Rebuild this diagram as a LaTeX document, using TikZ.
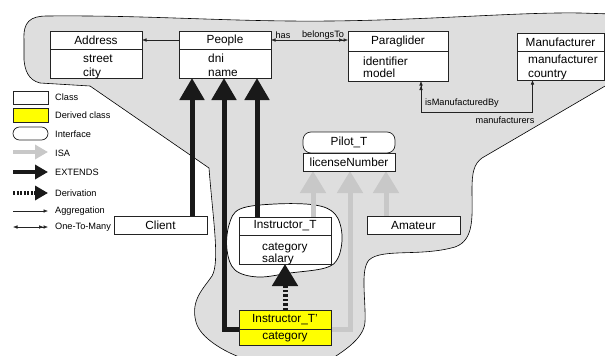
\documentclass[tikz,border=0pt]{standalone}
\usepackage{fontspec}
\setmainfont{Liberation Sans}
\usetikzlibrary{arrows.meta,calc}
\definecolor{blobgray}{RGB}{222,222,222}
\definecolor{isagray}{RGB}{200,200,200}
\definecolor{edgec}{RGB}{35,35,35}
\definecolor{derivy}{RGB}{255,255,0}
\pgfdeclarelayer{bgzero}
\pgfdeclarelayer{bgone}
\pgfsetlayers{bgzero,bgone,main}
\begin{document}
\begin{tikzpicture}[x=1pt,y=-1pt,
  box/.style={draw=edgec, line width=0.7pt, fill=white, inner sep=0pt, outer sep=0pt},
  ttl/.style={box, font=\fontsize{11.8}{14}\selectfont},
  attr/.style={inner sep=0pt, font=\fontsize{11.8}{14}\selectfont, anchor=base west},
  small/.style={inner sep=0pt, font=\fontsize{9.2}{11}\selectfont},
  lgtext/.style={small, anchor=west},
  stip/.tip={Latex[length=4.5pt,width=3.6pt]},
  dtip/.tip={Latex[length=4.5pt,width=3.6pt] Latex[length=4.5pt,width=3.6pt]},
  conn/.style={line width=0.6pt, edgec},
  extends/.style={line width=5pt, black!90, line join=miter, -{Triangle[width=24pt,length=22pt]}},
  isa/.style={line width=5pt, isagray, line join=miter, -{Triangle[width=25pt,length=22pt]}},
  deriv/.style={line width=5pt, black!90, dash pattern=on 2.5pt off 2pt, -{Triangle[width=25pt,length=22pt]}},
  lgextends/.style={line width=4pt, black!90, -{Triangle[width=14pt,length=13pt]}},
  lgisa/.style={line width=4pt, isagray, -{Triangle[width=14pt,length=13pt]}},
  lgderiv/.style={line width=4pt, black!90, dash pattern=on 2pt off 1.5pt, -{Triangle[width=14pt,length=13pt]}}
]
\useasboundingbox (0,0) rectangle (605,356);

% ---------- classes ----------
\node[ttl, minimum width=92pt, minimum height=18pt] (addrT) at (96,40) {Address};
\node[box, minimum width=92pt, minimum height=29pt] (addrB) at (96,63.5) {};
\node[attr] (addr1) at (83,62.5) {street};
\node[attr] (addr2) at (83,76) {city};

\node[ttl, minimum width=92pt, minimum height=18pt] (pplT) at (225,40) {People};
\node[box, minimum width=92pt, minimum height=29pt] (pplB) at (225,63.5) {};
\node[attr] (ppl1) at (208,62.5) {dni};
\node[attr] (ppl2) at (208,76) {name};

\node[ttl, minimum width=100pt, minimum height=20pt] (paraT) at (398,41) {Paraglider};
\node[box, minimum width=100pt, minimum height=30pt] (paraB) at (398,66) {};
\node[attr] (para1) at (363,65) {identifier};
\node[attr] (para2) at (363,77.5) {model};

\node[ttl, minimum width=87pt, minimum height=18pt] (manT) at (560.5,42) {Manufacturer};
\node[box, minimum width=87pt, minimum height=29pt] (manB) at (560.5,65.5) {};
\node[attr] (man1) at (528,63.5) {manufacturer};
\node[attr] (man2) at (528,77) {country};

\node[ttl, rounded corners=8pt, minimum width=92pt, minimum height=21pt] (pilotT) at (349,142.5) {Pilot\_T};
\node[ttl, minimum width=92pt, minimum height=18pt] (pilotB) at (349,162) {licenseNumber};

\node[ttl, minimum width=93pt, minimum height=18pt] (client) at (160.5,225) {Client};
\node[ttl, minimum width=93pt, minimum height=18pt] (amat) at (413.5,225) {Amateur};

\node[ttl, minimum width=92pt, minimum height=18pt] (instT) at (285,226) {Instructor\_T};
\node[box, minimum width=92pt, minimum height=29pt] (instB) at (285,249.5) {};
\node[attr] (inst1) at (262,250) {category};
\node[attr] (inst2) at (262,262) {salary};

\node[ttl, fill=derivy, minimum width=92pt, minimum height=19pt] (inst2T) at (285,319.5) {Instructor\_T'};
\node[ttl, fill=derivy, minimum width=92pt, minimum height=16pt] (inst2B) at (285,337) {category};

% ---------- labels ----------
\node[small] (lhas) at (283,35) {has};
\node[small] (lbel) at (323,35) {belongsTo};
\node[small] (lism) at (462,103) {isManufacturedBy};
\node[small] (lman) at (505,120) {manufacturers};

% ---------- legend ----------
\node[box, minimum width=35pt, minimum height=13pt] (lgclass) at (30.5,97.5) {};
\node[box, fill=derivy, minimum width=35pt, minimum height=14pt] (lgder) at (30.5,115) {};
\node[box, rounded corners=6.5pt, minimum width=35pt, minimum height=13pt] (lgint) at (30.5,133.5) {};
\node[lgtext] (lt1) at (55,97) {Class};
\node[lgtext] (lt2) at (55,115.5) {Derived class};
\node[lgtext] (lt3) at (55,134) {Interface};
\node[lgtext] (lt4) at (55,153) {ISA};
\node[lgtext] (lt5) at (55,172.5) {EXTENDS};
\node[lgtext] (lt6) at (55,193) {Derivation};
\node[lgtext] (lt7) at (55,211) {Aggregation};
\node[lgtext] (lt8) at (55,227) {One-To-Many};
\coordinate (la4) at (13,152);
\coordinate (la5) at (13,172);
\coordinate (la6) at (13,193);
\coordinate (la7) at (13,211);
\coordinate (la8) at (13,227);
\draw[lgisa] (la4) -- (la4 -| lgclass.east);
\draw[lgextends] (la5) -- (la5 -| lgclass.east);
\draw[lgderiv] (la6) -- (la6 -| lgclass.east);
\draw[conn, -stip] (la7) -- (la7 -| lgclass.east);
\draw[conn, stip-dtip] (la8) -- (la8 -| lgclass.east);

% ---------- background blob ----------
\begin{pgfonlayer}{bgzero}
\draw[fill=blobgray, line width=0.6pt]
  (24,40) .. controls (23,22) and (30,16) .. (47,16)
  .. controls (150,15) and (230,22) .. (330,21)
  .. controls (430,20) and (520,12) .. (580,13)
  -- (612,14) -- (612,82)
  -- (482,158)
  .. controls (474,164) and (472,172) .. (472,190)
  .. controls (472,215) and (475,240) .. (455,247)
  .. controls (420,257) and (382,248) .. (369,260)
  .. controls (360,270) and (366,300) .. (365,322)
  .. controls (364,338) and (345,350) .. (333,358)
  -- (242,358)
  .. controls (225,352) and (200,338) .. (196,322)
  .. controls (190,300) and (204,288) .. (212,276)
  .. controls (220,262) and (213,220) .. (209,168)
  -- (90,86)
  -- (40,83)
  .. controls (28,80) and (25,70) .. (24,60) -- cycle;
\draw[fill=white, line width=0.7pt] plot[smooth cycle, tension=0.6] coordinates
  {(240,209) (275,204) (315,205) (335,214) (342,235) (338,258) (325,268) (290,273) (258,277) (235,270) (227,250) (229,225)};
\end{pgfonlayer}

% ---------- connectors ----------
\begin{pgfonlayer}{bgone}
\coordinate (e1) at ([xshift=-33pt]pplB.south);
\coordinate (e2) at ([xshift=-1pt]pplB.south);
\coordinate (e3) at ([xshift=32pt]pplB.south);
\draw[extends] (e1 |- client.north) -- (e1);
\draw[extends] (inst2T.south west) -| (e2);
\draw[extends] (e3 |- instT.north) -- (e3);

\coordinate (i1) at ([xshift=-36pt]pilotB.south);
\coordinate (i2) at ([xshift=1pt]pilotB.south);
\coordinate (i3) at ([xshift=37pt]pilotB.south);
\draw[isa] (i1 |- instT.north) -- (i1);
\draw[isa] (inst2T.south east) -| (i2);
\draw[isa] (i3 |- amat.north) -- (i3);

\draw[deriv] (inst2T.north) -- (instB.south);

\draw[conn, -stip] (pplT.west) -- (addrT.east);
\draw[conn, stip-dtip] (pplT.east) -- (paraT.west |- pplT.east);
\coordinate (m1) at ([xshift=23pt]paraB.south);
\coordinate (m2) at ([xshift=-28pt]manB.south);
\draw[conn, dtip-stip] (m1) -- ++(0,31) -| (m2);
\end{pgfonlayer}
\end{tikzpicture}
\end{document}
